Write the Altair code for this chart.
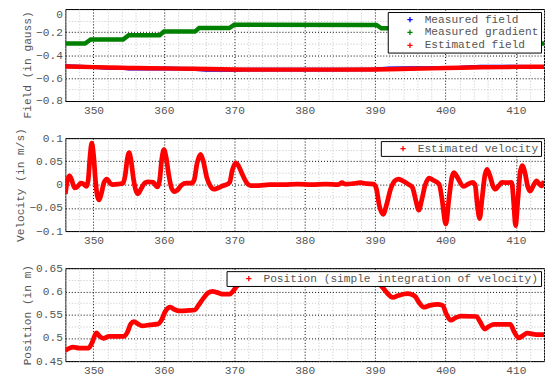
import altair as alt
import pandas as pd

FONT = "Liberation Mono"
TXT = "#555555"
FS = 11.3

# ---------------- data ----------------
# Panel 1: field
green_t = [346, 348.8, 349.6, 354.2, 355.0, 359.4, 360.0, 364.4, 365.0, 369.3, 370.0,
           390.2, 390.9, 395.0, 395.6, 400.0, 400.6, 405.0, 405.6, 410.0, 410.6, 414]
green_v = [-0.300, -0.300, -0.265, -0.265, -0.227, -0.227, -0.196, -0.196, -0.165, -0.165, -0.136,
           -0.138, -0.167, -0.167, -0.196, -0.196, -0.227, -0.227, -0.265, -0.265, -0.300, -0.300]

field_t = [346, 348, 350, 352, 354, 355, 356, 358, 360, 362, 364, 366, 368, 370, 372, 375,
           380, 385, 390, 392, 395, 398, 400, 402, 405, 408, 410, 412, 414]
red_field = [-0.500, -0.502, -0.505, -0.508, -0.510, -0.512, -0.513, -0.514, -0.516, -0.518,
             -0.520, -0.522, -0.524, -0.526, -0.527, -0.527, -0.527, -0.527, -0.526, -0.524,
             -0.520, -0.516, -0.513, -0.510, -0.507, -0.505, -0.503, -0.502, -0.502]
blue_field = [-0.497, -0.500, -0.505, -0.512, -0.512, -0.518, -0.516, -0.518, -0.516, -0.518,
              -0.520, -0.528, -0.528, -0.528, -0.527, -0.527, -0.527, -0.527, -0.524, -0.515,
              -0.513, -0.514, -0.512, -0.510, -0.500, -0.500, -0.500, -0.502, -0.502]

# Panel 2: velocity
vel_t = [346.0, 346.3, 346.6, 346.9, 347.3, 347.6, 348.2, 348.6, 349.0, 349.25, 349.5, 349.75,
         350.0, 350.3, 350.55, 350.8, 351.1, 351.5, 351.9, 352.3, 352.7, 353.5, 354.2, 354.5,
         354.8, 355.05, 355.3, 355.7, 356.0, 356.3, 356.8, 357.3, 357.8, 358.5, 358.9, 359.1,
         359.4, 359.7, 360.0, 360.3, 360.7, 361.1, 361.5, 361.9, 362.5, 363.2, 363.9, 364.3,
         364.7, 365.2, 365.6, 366.1, 366.6, 367.1, 367.6, 368.3, 369.0, 369.35, 369.7, 370.2,
         370.6, 371.2, 371.8, 372.3, 373.5, 375, 377, 379, 381, 383, 384.8, 385.3, 385.8,
         386.8, 387.9, 388.8, 389.8, 390.2, 390.6, 391.15, 391.6, 392.2, 392.8, 393.3, 393.8,
         394.7, 395.3, 395.8, 396.2, 396.6, 397.1, 397.7, 398.2, 399.1, 399.5, 400.05, 400.5,
         400.9, 401.2, 401.6, 402.6, 403.2, 403.8, 404.2, 404.5, 404.85, 405.2, 405.6, 405.9,
         406.3, 406.8, 407.1, 407.6, 408.0, 408.7, 409.4, 409.7, 409.95, 410.3, 410.6, 410.9,
         411.3, 411.7, 412.0, 412.5, 412.95, 413.3, 413.65, 414.0]
vel_v = [-0.020, 0.010, 0.019, 0.010, -0.007, -0.006, 0.003, 0.001, -0.004, 0.010, 0.060, 0.089,
         0.065, 0.005, -0.025, -0.033, -0.020, 0.005, 0.012, 0.004, 0.000, 0.001, 0.003, 0.020,
         0.055, 0.069, 0.055, 0.010, -0.012, -0.020, -0.008, 0.004, 0.006, 0.005, -0.003, -0.005,
         0.010, 0.055, 0.075, 0.060, 0.020, -0.008, -0.015, -0.012, -0.001, 0.003, 0.003, 0.010,
         0.045, 0.065, 0.050, 0.015, -0.003, -0.010, -0.008, -0.003, 0.001, 0.005, 0.030, 0.047,
         0.040, 0.020, 0.003, -0.002, -0.002, 0.000, 0.000, 0.001, 0.000, 0.001, 0.000, 0.004, 0.001,
         0.002, 0.004, 0.002, 0.001, -0.010, -0.045, -0.064, -0.045, -0.010, 0.008, 0.012, 0.009,
         0.001, -0.006, -0.035, -0.055, -0.035, -0.002, 0.014, 0.010, 0.001, -0.030, -0.085, -0.030,
         0.015, 0.026, 0.018, -0.004, 0.001, 0.005, 0.000, -0.040, -0.073, -0.030, 0.020, 0.033,
         0.020, -0.005, -0.010, -0.002, 0.005, 0.004, 0.005, -0.040, -0.088, -0.030, 0.025, 0.041,
         0.025, -0.005, -0.014, -0.002, 0.008, 0.002, -0.003, 0.008]

# Panel 3: position
pos_t = [346.0, 346.6, 347.1, 348.0, 349.3, 349.8, 350.4, 350.9, 351.4, 352.2, 354.3, 354.8,
         355.3, 355.75, 356.3, 356.9, 358.0, 359.2, 359.6, 360.2, 360.9, 361.5, 362.2, 363.5,
         364.4, 364.9, 365.6, 366.3, 366.9, 367.5, 368.5, 369.35, 369.9, 370.3, 370.9, 371.6,
         380.0, 390.0, 390.5, 391.15, 391.8, 392.5, 393.3, 394.6, 395.3, 395.7, 396.3, 396.9,
         397.8, 398.9, 399.6, 400.1, 400.75, 401.4, 402.2, 404.4, 404.9, 405.6, 406.2, 406.9,
         409.2, 409.8, 410.4, 411.0, 411.6, 412.9, 414.0]
pos_v = [0.473, 0.478, 0.480, 0.478, 0.478, 0.490, 0.511, 0.503, 0.499, 0.503, 0.503, 0.512,
         0.530, 0.535, 0.530, 0.526, 0.528, 0.530, 0.537, 0.557, 0.566, 0.561, 0.558, 0.559,
         0.560, 0.570, 0.585, 0.597, 0.600, 0.598, 0.594, 0.594, 0.602, 0.610, 0.617, 0.620,
         0.620, 0.620, 0.617, 0.607, 0.595, 0.587, 0.591, 0.595, 0.593, 0.589, 0.575, 0.566,
         0.570, 0.572, 0.570, 0.552, 0.538, 0.543, 0.547, 0.546, 0.535, 0.519, 0.525, 0.529,
         0.529, 0.512, 0.500, 0.505, 0.510, 0.507, 0.507]

# tick values (major + minor grid)
x_ticks = [346, 348, 350, 352, 354, 356, 358, 360, 362, 364, 366, 368, 370, 372, 374, 376, 378,
           380, 382, 384, 386, 388, 390, 392, 394, 396, 398, 400, 402, 404, 406, 408, 410, 412, 414]
y1_ticks = [-0.8, -0.7, -0.6, -0.5, -0.4, -0.3, -0.2, -0.1, 0.0]
y2_ticks = [-0.1, -0.075, -0.05, -0.025, 0.0, 0.025, 0.05, 0.075, 0.1]
y3_ticks = [0.45, 0.475, 0.5, 0.525, 0.55, 0.575, 0.6, 0.625, 0.65]

W = 484
H = 94


def grid_color(test):
    return {"condition": {"test": test, "value": "#000000"}, "value": "#c4c4c4"}


x_test = "datum.value % 10 == 0"
x_axis = alt.Axis(values=x_ticks, format="~g",
                  labelExpr="datum.value % 10 == 0 ? datum.label : ''",
                  gridColor=grid_color(x_test), gridDash=[1, 2], ticks=False,
                  domain=False, labelOverlap=False, labelPadding=4, title=None)
x_enc = alt.X("t:Q", scale=alt.Scale(domain=[346, 414], nice=False, zero=False), axis=x_axis)


def y_axis(values, test, title, **kw):
    return alt.Axis(values=values, format="~g",
                    labelExpr=f"({test}) ? datum.label : ''",
                    gridColor=grid_color(test), gridDash=[1, 2], ticks=False,
                    domain=False, labelOverlap=False, labelPadding=3, titlePadding=3,
                    title=title, **kw)


# custom plus symbol shifted right inside the legend
PLUS = "M4.6,0H6.6M5.6,-1V1"


def legend():
    return alt.Legend(orient="top-right", offset=3, title=None, fillColor="white",
                      strokeColor="black", padding=2, symbolType=PLUS,
                      symbolStrokeWidth=1.3, symbolSize=28,
                      labelOffset=24, labelFont=FONT, labelFontSize=FS, labelColor=TXT,
                      rowPadding=1, labelLimit=500)


# Panel 1
names1 = ["Measured field", "Measured gradient", "Estimated field"]
col1 = alt.Color("series:N", scale=alt.Scale(domain=names1, range=["#0000ff", "#008000", "#ff0000"]),
                 legend=legend())
y1 = alt.Y("v:Q", scale=alt.Scale(domain=[-0.8, 0], nice=False, zero=False),
           axis=y_axis(y1_ticks, "abs(round(datum.value*10)) % 2 == 0", "Field (in gauss)",
                       titleY=56,
                       labelBaseline={"condition": {"test": "datum.value == 0", "value": "top"},
                                      "value": "middle"}))

df_blue = pd.DataFrame({"t": field_t, "v": blue_field, "series": "Measured field"})
df_green = pd.DataFrame({"t": green_t, "v": green_v, "series": "Measured gradient"})
df_red = pd.DataFrame({"t": field_t, "v": red_field, "series": "Estimated field"})

l_blue = alt.Chart(df_blue).mark_line(strokeWidth=3.8, clip=True).encode(x=x_enc, y=y1, color=col1)
l_green = alt.Chart(df_green).mark_line(strokeWidth=4.5, clip=True).encode(x=x_enc, y=y1, color=col1)
l_red = alt.Chart(df_red).mark_line(strokeWidth=4.5, clip=True).encode(x=x_enc, y=y1, color=col1)
p1 = alt.layer(l_blue, l_green, l_red).properties(width=W, height=H - 1)

# Panel 2
df_vel = pd.DataFrame({"t": vel_t, "v": vel_v, "series": "Estimated velocity"})
col2 = alt.Color("series:N", scale=alt.Scale(domain=["Estimated velocity"], range=["#ff0000"]),
                 legend=legend())
y2 = alt.Y("v:Q", scale=alt.Scale(domain=[-0.1, 0.1], nice=False, zero=False),
           axis=y_axis(y2_ticks, "abs(round(datum.value*40)) % 2 == 0", "Velocity (in m/s)"))
p2 = alt.Chart(df_vel).mark_line(strokeWidth=4.8, clip=True, interpolate="monotone",
                                 strokeJoin="round").encode(
    x=x_enc, y=y2, color=col2).properties(width=W, height=H)

# Panel 3
df_pos = pd.DataFrame({"t": pos_t, "v": pos_v,
                       "series": "Position (simple integration of velocity)"})
col3 = alt.Color("series:N", scale=alt.Scale(domain=["Position (simple integration of velocity)"],
                                             range=["#ff0000"]), legend=legend())
y3 = alt.Y("v:Q", scale=alt.Scale(domain=[0.45, 0.65], nice=False, zero=False),
           axis=y_axis(y3_ticks, "abs(round(datum.value*40)) % 2 == 0", "Position (in m)"))
p3 = alt.Chart(df_pos).mark_line(strokeWidth=4.8, clip=True, interpolate="monotone",
                                 strokeJoin="round").encode(
    x=x_enc, y=y3, color=col3).properties(width=W, height=H)

chart = alt.vconcat(p1, p2, p3, spacing=37.5, bounds="flush").resolve_scale(
    color="independent").resolve_legend(color="independent").properties(
    padding={"left": 6, "top": -2, "right": 0, "bottom": 0}
).configure_view(stroke="black", strokeWidth=1).configure_axis(
    labelFont=FONT, labelFontSize=FS, labelColor=TXT,
    titleFont=FONT, titleFontSize=FS, titleColor=TXT, titleFontWeight="normal"
)

chart.save("out.html", embed_options={"renderer": "svg", "actions": False})
